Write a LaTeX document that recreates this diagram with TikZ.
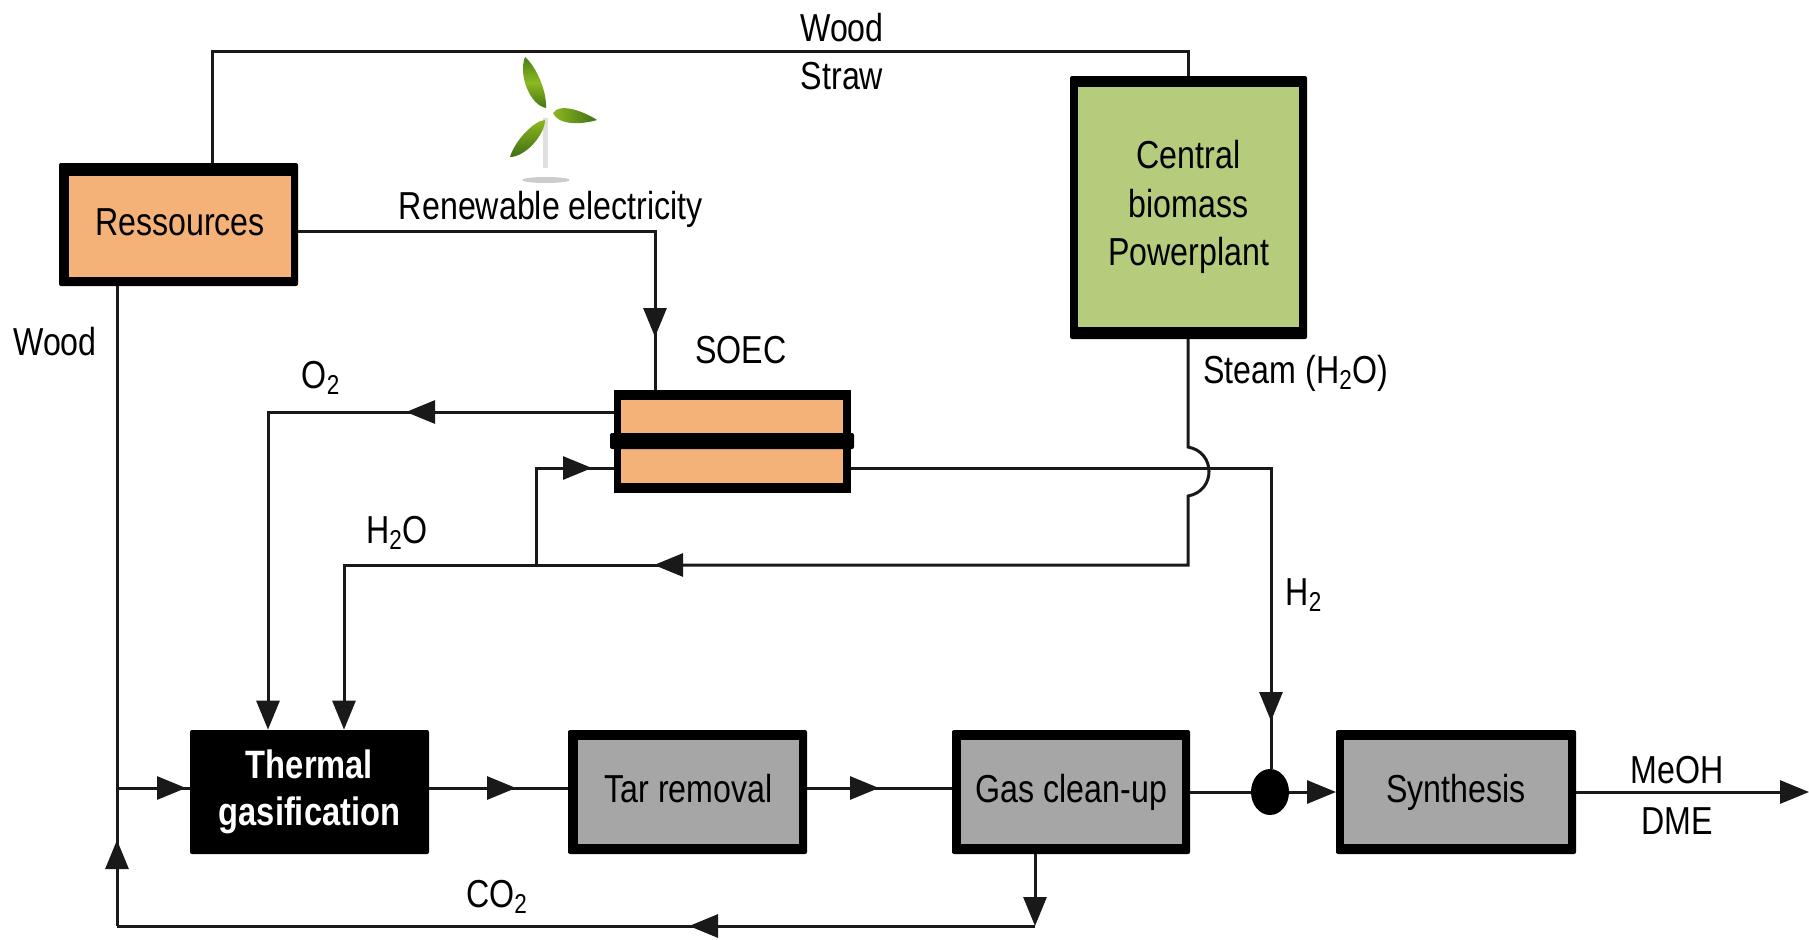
\documentclass[tikz,border=0pt]{standalone}
\usepackage{fontspec}
\setmainfont[FakeStretch=0.825]{Liberation Sans}
\usetikzlibrary{arrows.meta,calc,shapes.geometric}
\definecolor{procgray}{HTML}{A6A6A6}
\definecolor{soecorange}{HTML}{F5B278}
\definecolor{plantgreen}{HTML}{B5CC7C}
\definecolor{leafa}{HTML}{5C9E1E}
\definecolor{leafb}{HTML}{8DB820}
\tikzset{
  conn/.style={line width=1.5pt,draw=black!90},
  joined/.style={conn,shorten <=-4pt},
  tipped/.style={conn,-{Triangle[length=14.5pt,width=11.5pt]}},
  shell/.style={fill=black,inner sep=0pt,rounded corners=1pt,outer sep=0pt},
  face/.style={inner sep=0pt,outer sep=0pt,align=center,font=\fontsize{19.5}{24}\selectfont},
  procface/.style={face,fill=procgray,minimum height=52pt,text height=14pt,text depth=3.3pt},
  procshell/.style={shell,minimum height=62pt},
  lbl/.style={font=\fontsize{19.5}{24}\selectfont,inner sep=0pt,align=center},
  soecpart/.style={fill=soecorange,inner sep=0pt,minimum width=111pt},
}
\begin{document}
\begin{tikzpicture}[x=0.5pt,y=-0.5pt]
\useasboundingbox (0,0) rectangle (1809,939);
% boxes
\node[shell,minimum width=119.5pt,minimum height=61.5pt] (ress) at (178.5,224.5) {};
\node[face,fill=soecorange,minimum width=111pt,minimum height=50.5pt,text height=14pt,text depth=5pt] (ressface) at (180,226.5) {Ressources};
\node[shell,minimum width=118.5pt,minimum height=131.5pt] (plant) at (1188.5,207.5) {};
\node[face,fill=plantgreen,minimum width=110.5pt,minimum height=120pt,font=\fontsize{19.5}{24.3}\selectfont] (plantface) at (1188.5,207) {Central\\biomass\\Powerplant};
\node[fill=black,inner sep=0pt,minimum width=118.5pt,minimum height=51.5pt] (soec) at (732.5,441.5) {};
\node[soecpart,minimum height=16.5pt] (soectop) at (732,416.5) {};
\node[soecpart,minimum height=17pt] (soecbot) at (732,466) {};
\node[fill=black,inner sep=0pt,minimum width=122pt,minimum height=8pt,rounded corners=1pt] (soecmid) at (732,441) {};
\node[fill=black,text=white,inner sep=0pt,minimum width=119.5pt,minimum height=62pt,rounded corners=1pt,font=\fontsize{19.8}{23.5}\selectfont\bfseries,align=center] (therm) at (309.5,792) {Thermal\\gasification};
\node[procshell,minimum width=119.5pt] (tar) at (687.5,792) {};
\node[procface,minimum width=110.5pt] (tarface) at (688.5,792) {Tar removal};
\node[procshell,minimum width=119pt] (gas) at (1071,792) {};
\node[procface,minimum width=110.5pt] (gasface) at (1071.5,792) {Gas clean-up};
\node[procshell,minimum width=120pt] (syn) at (1456,792) {};
\node[procface,minimum width=112pt] (synface) at (1456,792) {Synthesis};
\node[ellipse,fill=black,inner sep=0pt,minimum width=19pt,minimum height=23pt] (mix) at (1270,792) {};
% routing points
\coordinate (topL) at (212,51);
\coordinate (topR) at (1188,51);
\coordinate (elecB) at (655,231);
\coordinate (elecTip) at (655,337);
\coordinate (woodX) at (117,788);
\coordinate (woodTip) at (186,788);
\coordinate (woodBot) at (117,926);
\coordinate (woodUp) at (117,840);
\coordinate (co2R) at (1035,926);
\coordinate (co2Tip) at (689,926);
\coordinate (gasTip) at (1035,926);
\coordinate (o2A) at (438,412);
\coordinate (o2Tip) at (406,412);
\coordinate (o2B) at (268,412);
\coordinate (jumpT) at (1188,447);
\coordinate (jumpB) at (1188,496);
\coordinate (steamB) at (1188,565);
\coordinate (h2oTip) at (654,565);
\coordinate (junc) at (536,565);
\coordinate (h2oB) at (344,565);
\coordinate (up) at (536,468);
\coordinate (upTip) at (592,468);
\coordinate (h2R) at (1271,468);
\coordinate (h2Tip) at (1271,721);
\coordinate (a1) at (516,788);
\coordinate (a2) at (879,788);
\coordinate (outEnd) at (1809,792);
% connectors
\draw[conn] (ress.north -| topL) -- (topL) -- (topR) -- (plant.north -| topR);
\draw[tipped] (ress.east |- elecB) -- (elecB) -- (elecTip);
\draw[joined] (elecTip) -- (soec.north -| elecTip);
\draw[conn] (ress.south -| woodX) -- (woodX);
\draw[tipped] (woodX) -- (woodTip);
\draw[joined] (woodTip) -- (therm.west |- woodTip);
\draw[tipped] (woodBot) -- (woodUp);
\draw[joined] (woodUp) -- (woodX);
\draw[tipped] (co2R) -- (co2Tip);
\draw[joined] (co2Tip) -- (woodBot);
\draw[tipped] (gas.south -| gasTip) -- (gasTip);
\draw[tipped] (soec.west |- o2A) -- (o2Tip);
\draw[tipped,shorten <=-4pt] (o2Tip) -- (o2B) -- (therm.north -| o2B);
\draw[tipped] (plant.south -| jumpT) -- (jumpT) .. controls (1216,452) and (1216,491) .. (jumpB) -- (steamB) -- (h2oTip);
\draw[tipped,shorten <=-4pt] (h2oTip) -- (h2oB) -- (therm.north -| h2oB);
\draw[tipped] (junc) -- (up) -- (upTip);
\draw[joined] (upTip) -- (soec.west |- upTip);
\draw[tipped] (soec.east |- h2R) -- (h2R) -- (h2Tip);
\draw[joined] (h2Tip) -- (mix.north -| h2Tip);
\draw[tipped] (therm.east |- a1) -- (a1);
\draw[joined] (a1) -- (tar.west |- a1);
\draw[tipped] (tar.east |- a2) -- (a2);
\draw[joined] (a2) -- (gas.west |- a2);
\draw[conn] (gas.east |- mix) -- (mix);
\draw[tipped] (mix) -- (syn.west |- mix);
\draw[tipped] (syn.east |- outEnd) -- (outEnd);
% labels
\node[lbl] (lwood) at (842,28) {Wood};
\node[lbl] (lstraw) at (842,76) {Straw};
\node[lbl] (lren) at (551,209) {Renewable electricity};
\node[lbl] (lwoodb) at (55,342) {Wood};
\node[lbl] (lo2) at (321,378) {O\textsubscript{2}};
\node[lbl] (lsoec) at (741,350) {SOEC};
\node[lbl] (lsteam) at (1296,373) {Steam (H\textsubscript{2}O)};
\node[lbl] (lh2o) at (397,533) {H\textsubscript{2}O};
\node[lbl] (lh2) at (1304,595) {H\textsubscript{2}};
\node[lbl] (lmeoh) at (1677,770) {MeOH};
\node[lbl] (ldme) at (1677,821) {DME};
\node[lbl] (lco2) at (497,897) {CO\textsubscript{2}};
% wind turbine
\fill[black!12] (543,118) -- (548,118) -- (548,168) -- (543,168) -- cycle;
\fill[black!20] (546,180) ellipse [x radius=24,y radius=3];
\shade[top color=leafa!80!black,bottom color=leafa!75!black,middle color=leafb] (525,57) .. controls (518,75) and (530,105) .. (546,108) .. controls (547,90) and (535,65) .. (525,57) -- cycle;
\shade[left color=leafb,right color=leafa!70!black] (553,113) .. controls (560,102) and (585,112) .. (597,120) .. controls (580,125) and (558,125) .. (553,113) -- cycle;
\shade[top color=leafb,bottom color=leafa!70!black] (510,157) .. controls (515,140) and (535,120) .. (545,120) .. controls (545,135) and (525,157) .. (510,157) -- cycle;
\end{tikzpicture}
\end{document}
